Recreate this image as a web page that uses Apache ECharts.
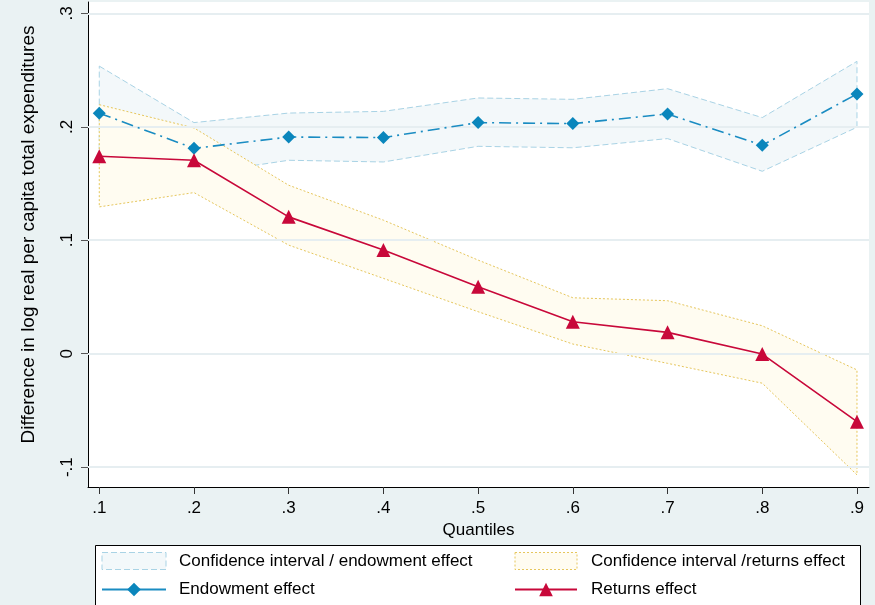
<!DOCTYPE html>
<html>
<head>
<meta charset="utf-8">
<script src="https://cdn.jsdelivr.net/npm/echarts@6/dist/echarts.min.js"></script>
<style>
html,body{margin:0;padding:0;background:#EAF2F3;}
#chart{width:875px;height:605px;}
</style>
</head>
<body>
<div id="chart"></div>
<script>
const quantiles = [0.1, 0.2, 0.3, 0.4, 0.5, 0.6, 0.7, 0.8, 0.9];
const endowment = [0.212, 0.181, 0.191, 0.1905, 0.2037, 0.2028, 0.2113, 0.1837, 0.2289];
const endowLo   = [0.172, 0.158, 0.1705, 0.169, 0.1828, 0.1815, 0.1896, 0.1608, 0.1996];
const endowHi   = [0.2535, 0.2037, 0.2121, 0.2136, 0.2254, 0.2242, 0.2336, 0.2081, 0.2577];
const returnsEff = [0.174, 0.1705, 0.1206, 0.0913, 0.059, 0.0282, 0.0188, -0.0003, -0.0599];
const returnsLo  = [0.1294, 0.142, 0.0957, 0.0664, 0.037, 0.0085, -0.0085, -0.026, -0.1068];
const returnsHi  = [0.2195, 0.199, 0.1485, 0.1177, 0.0825, 0.0493, 0.0467, 0.0246, -0.0143];
const xTicks = [0.1, 0.2, 0.3, 0.4, 0.5, 0.6, 0.7, 0.8, 0.9];
const yTicks = [-0.1, 0, 0.1, 0.2, 0.3];

const names = {
  ciEndow: 'Confidence interval / endowment effect',
  ciRet: 'Confidence interval /returns effect',
  endow: 'Endowment effect',
  ret: 'Returns effect'
};

const FONT = 'Liberation Sans, Arial, sans-serif';
const fmt = v => {
  const r = Math.round(v * 10) / 10;
  if (r === 0) return '0';
  return String(r).replace(/^(-?)0\./, '$1.');
};

function bandSeries(name, lo, hi, fill, stroke, dash, z) {
  return {
    type: 'custom',
    name: name,
    z: z,
    silent: true,
    itemStyle: { color: fill, borderColor: stroke },
    encode: { x: 0, y: [1, 2] },
    data: quantiles.map((q, i) => [q, lo[i], hi[i]]),
    renderItem: function (params, api) {
      if (params.dataIndex !== 0) return null;
      const pts = [];
      for (let i = 0; i < quantiles.length; i++) pts.push(api.coord([quantiles[i], hi[i]]));
      for (let i = quantiles.length - 1; i >= 0; i--) pts.push(api.coord([quantiles[i], lo[i]]));
      return {
        type: 'polygon',
        shape: { points: pts },
        style: { fill: fill, stroke: stroke, lineWidth: 1, lineDash: dash }
      };
    }
  };
}

const chart = echarts.init(document.getElementById('chart'), null, { renderer: 'canvas' });
chart.setOption({
  animation: false,
  backgroundColor: '#EAF2F3',
  textStyle: { fontFamily: FONT },
  grid: { left: 88, right: 6, top: 2, bottom: 118, show: true, backgroundColor: '#ffffff', borderWidth: 0 },
  xAxis: {
    type: 'value',
    min: 0.0881, max: 0.9127,
    name: 'Quantiles',
    nameLocation: 'middle',
    nameGap: 30,
    nameTextStyle: { fontSize: 17, color: '#000', fontFamily: FONT },
    axisLine: { show: true, onZero: false, lineStyle: { color: '#000', width: 1 } },
    axisTick: { show: true, length: 7, customValues: xTicks, lineStyle: { color: '#333' } },
    axisLabel: { customValues: xTicks, formatter: fmt, fontSize: 17, color: '#000', margin: 13, fontFamily: FONT },
    splitLine: { show: false }
  },
  yAxis: {
    type: 'value',
    min: -0.1175, max: 0.31,
    name: 'Difference in log real per capita total expenditures',
    nameLocation: 'middle',
    nameGap: 50,
    nameTextStyle: { fontSize: 19, color: '#000', fontFamily: FONT, padding: [0, 0, 0, 20] },
    axisLine: { show: true, onZero: false, lineStyle: { color: '#000', width: 1 } },
    axisTick: { show: true, length: 7, customValues: yTicks, lineStyle: { color: '#555' } },
    axisLabel: { customValues: yTicks, formatter: fmt, fontSize: 17, color: '#000', rotate: 90, margin: 12, fontFamily: FONT },
    splitLine: { show: false }
  },
  legend: [
    {
      left: 101, top: 552, orient: 'vertical', itemGap: 11, itemWidth: 64, itemHeight: 17,
      padding: 0, selectedMode: false,
      textStyle: { fontSize: 17, color: '#000', fontFamily: FONT, padding: [0, 0, 0, 8] },
      data: [
        { name: names.ciEndow, icon: 'rect', itemStyle: { color: '#F3F8FA', borderColor: '#A9D3E5', borderWidth: 1, borderType: [6, 3] } },
        { name: names.endow, lineStyle: { type: 'solid' } }
      ]
    },
    {
      left: 514, top: 552, orient: 'vertical', itemGap: 11, itemWidth: 62, itemHeight: 17,
      padding: 0, selectedMode: false,
      textStyle: { fontSize: 17, color: '#000', fontFamily: FONT, padding: [0, 0, 0, 9] },
      data: [
        { name: names.ciRet, icon: 'rect', itemStyle: { color: '#FFFCF1', borderColor: '#E6C65C', borderWidth: 1, borderType: [2, 2] } },
        { name: names.ret }
      ]
    }
  ],
  graphic: [
    {
      type: 'rect', left: 95, top: 545, z: -1,
      shape: { width: 765, height: 70 },
      style: { fill: '#ffffff', stroke: '#000', lineWidth: 1 }
    }
  ],
  series: [
    {
      type: 'line', name: 'grid', data: [], z: 1, silent: true,
      markLine: {
        silent: true, symbol: 'none', label: { show: false },
        lineStyle: { color: '#E6EEF1', width: 2, type: 'solid' },
        data: yTicks.map(v => ({ yAxis: v }))
      }
    },
    bandSeries(names.ciEndow, endowLo, endowHi, '#F3F8FA', '#A9D3E5', [6, 3], 2),
    bandSeries(names.ciRet, returnsLo, returnsHi, '#FFFCF1', '#E6C65C', [2, 2], 3),
    {
      type: 'line', name: names.endow, z: 5,
      data: quantiles.map((q, i) => [q, endowment[i]]),
      symbol: 'diamond', symbolSize: 13,
      itemStyle: { color: '#0A86BC' },
      lineStyle: { color: '#1A8CC2', width: 1.6, type: [12, 5, 2, 5] }
    },
    {
      type: 'line', name: names.ret, z: 6,
      data: quantiles.map((q, i) => [q, returnsEff[i]]),
      symbol: 'triangle', symbolSize: 14,
      itemStyle: { color: '#C8083A' },
      lineStyle: { color: '#C8083A', width: 1.6, type: 'solid' }
    }
  ]
});
</script>
</body>
</html>
